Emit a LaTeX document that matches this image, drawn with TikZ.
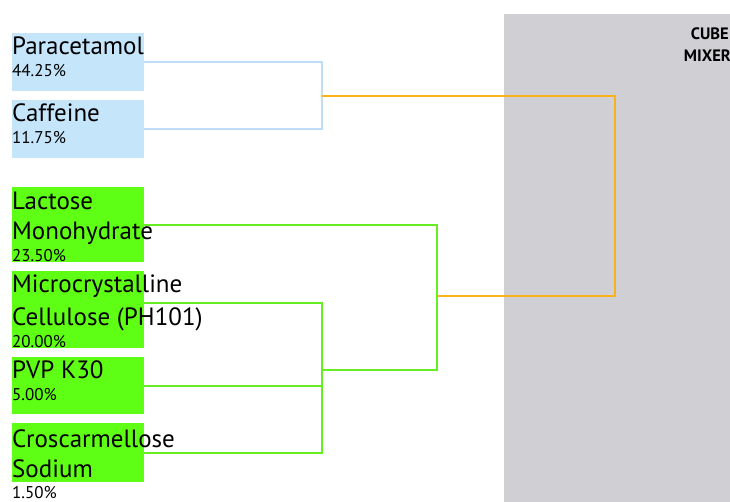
\documentclass[tikz,border=0pt]{standalone}
\usepackage{fontspec}
\setmainfont{PT Sans}
\definecolor{mixgray}{HTML}{D0CFD3}
\definecolor{boxblue}{HTML}{C5E5FA}
\definecolor{lineblue}{HTML}{BFDDF6}
\definecolor{boxgreen}{HTML}{5EFF14}
\definecolor{linegreen}{HTML}{66EE22}
\definecolor{lineorange}{HTML}{FBB21A}
\begin{document}
\begin{tikzpicture}[x=1pt,y=-1pt,
  ingbox/.style={draw=none,inner sep=0pt,minimum width=132pt,anchor=north west},
  bluebox/.style={ingbox,fill=boxblue},
  greenbox/.style={ingbox,fill=boxgreen},
  nametext/.style={anchor=base west,inner sep=0pt,font=\fontsize{25}{28}\selectfont},
  pcttext/.style={anchor=base west,inner sep=0pt,font=\fontsize{17}{19}\selectfont},
  mixtext/.style={anchor=base east,inner sep=0pt,font=\bfseries\fontsize{16.5}{18}\selectfont},
  wire/.style={line width=1.9pt},
  bluewire/.style={wire,draw=lineblue},
  greenwire/.style={wire,draw=linegreen},
  orangewire/.style={wire,draw=lineorange}]
\useasboundingbox (0,0) rectangle (730,502);
\node[fill=mixgray,inner sep=0pt,minimum width=226pt,minimum height=488pt,anchor=north west] (mixer) at (504,14) {};
\node[mixtext] (cube) at (729,40) {CUBE};
\node[mixtext] (mix) at (731,62) {MIXER};
% boxes
\node[bluebox,minimum height=58pt] (para) at (12,33) {};
\node[bluebox,minimum height=58pt] (caf) at (12,100) {};
\node[greenbox,minimum height=75pt] (lac) at (12,187) {};
\node[greenbox,minimum height=77pt] (mcc) at (12,271) {};
\node[greenbox,minimum height=57pt] (pvp) at (12,357) {};
\node[greenbox,minimum height=59pt] (cros) at (12,423) {};
% texts
\node[nametext] (t1) at (12,55) {Paracetamol};
\node[pcttext] (p1) at (12,77) {44.25\%};
\node[nametext] (t2) at (12,122) {Caffeine};
\node[pcttext] (p2) at (12,144) {11.75\%};
\node[nametext] (t3a) at (12,210) {Lactose};
\node[nametext] (t3b) at (12,240) {Monohydrate};
\node[pcttext] (p3) at (12,262) {23.50\%};
\node[nametext] (t4a) at (12,293) {Microcrystalline};
\node[nametext] (t4b) at (12,325) {Cellulose (PH101)};
\node[pcttext] (p4) at (12,347) {20.00\%};
\node[nametext] (t5) at (12,378) {PVP K30};
\node[pcttext] (p5) at (12,400) {5.00\%};
\node[nametext] (t6a) at (12,447) {Croscarmellose};
\node[nametext] (t6b) at (12,477) {Sodium};
\node[pcttext] (p6) at (12,498) {1.50\%};
% junctions
\coordinate (j1) at (322,96);
\coordinate (j2) at (437,296);
\coordinate (j3) at (322,370);
\coordinate (om) at (615,200);
\coordinate (mccout) at ([yshift=7pt]mcc.east);
% wires
\draw[bluewire] (para.east) -| (j1) |- (caf.east);
\draw[greenwire] (lac.east) -| (j2) |- (j3);
\draw[greenwire] (mccout) -| (j3) |- (cros.east);
\draw[greenwire] (pvp.east) -- (pvp.east -| j3);
\draw[orangewire] (j1) -| (om) |- (j2);
\end{tikzpicture}
\end{document}
